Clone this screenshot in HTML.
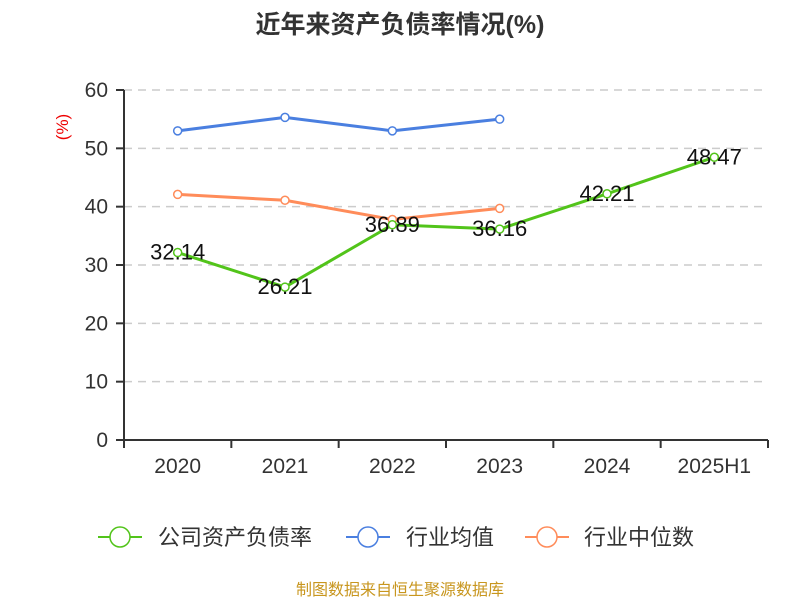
<!DOCTYPE html>
<html><head><meta charset="utf-8"><style>
body{margin:0;background:#fff;font-family:"Liberation Sans","Noto Sans CJK SC",sans-serif}
</style></head><body>
<svg id="c" width="800" height="600" xmlns="http://www.w3.org/2000/svg" font-family="Liberation Sans, Noto Sans CJK SC, sans-serif">
<text x="400" y="33" text-anchor="middle" font-size="25" font-weight="bold" fill="#333">近年来资产负债率情况(%)</text>
<text transform="translate(68,127) rotate(-90)" text-anchor="middle" font-size="17" fill="#e00">(%)</text>
<g id="grid"></g><g id="axes"></g><g id="series"></g>
<g font-size="22" fill="#333">
<g><line x1="98" y1="537" x2="142" y2="537" stroke="#52c41a" stroke-width="2"/><circle cx="120" cy="537" r="10" fill="#fff" stroke="#52c41a" stroke-width="1.5"/><text x="158" y="545">公司资产负债率</text></g>
<g><line x1="346" y1="537" x2="390" y2="537" stroke="#4a7fe0" stroke-width="2"/><circle cx="368" cy="537" r="10" fill="#fff" stroke="#4a7fe0" stroke-width="1.5"/><text x="406" y="545">行业均值</text></g>
<g><line x1="525" y1="537" x2="569" y2="537" stroke="#ff8c5a" stroke-width="2"/><circle cx="547" cy="537" r="10" fill="#fff" stroke="#ff8c5a" stroke-width="1.5"/><text x="584" y="545">行业中位数</text></g>
</g>
<text x="400" y="595" text-anchor="middle" font-size="16" fill="#c8961e">制图数据来自恒生聚源数据库</text>
</svg>
<script>
const categories=["2020","2021","2022","2023","2024","2025H1"];
const companyValues=[32.14,26.21,36.89,36.16,42.21,48.47];
const avgValues=[53.0,55.3,53.0,55.0,null,null];
const medianValues=[42.1,41.1,37.8,39.7,null,null];
const yTicks=[0,10,20,30,40,50,60];
const NS="http://www.w3.org/2000/svg";
const L=124,R=768,T=90,B=440,yMax=60;
const bw=(R-L)/categories.length;
const xs=i=>L+bw*(i+0.5);
const ys=v=>B-(v/yMax)*(B-T);
function mk(t,a,p,txt){const e=document.createElementNS(NS,t);for(const k in a)e.setAttribute(k,a[k]);if(txt!=null)e.textContent=txt;p.appendChild(e);return e;}
const grid=document.getElementById('grid'),axes=document.getElementById('axes'),ser=document.getElementById('series');
yTicks.forEach(v=>{
  if(v>0){const g=mk('line',{x1:L,x2:R,y1:ys(v),y2:ys(v),stroke:'#ccc','stroke-width':1.5,'stroke-dasharray':'8,6'},grid);
  
  }
  mk('line',{x1:L-8,x2:L,y1:ys(v),y2:ys(v),stroke:'#333','stroke-width':2},axes);
  const t=mk('text',{x:L-16,y:ys(v)+7,'text-anchor':'end','font-size':21,fill:'#333'},axes,v);
  
  
});
mk('line',{x1:L,x2:L,y1:T,y2:B,stroke:'#333','stroke-width':2},axes);
mk('line',{x1:L,x2:R,y1:B,y2:B,stroke:'#333','stroke-width':2},axes);
for(let i=0;i<=categories.length;i++)mk('line',{x1:L+bw*i,x2:L+bw*i,y1:B,y2:B+8,stroke:'#333','stroke-width':2},axes);
categories.forEach((c,i)=>{const t=mk('text',{x:xs(i),y:473,'text-anchor':'middle','font-size':21,fill:'#333'},axes,c);

});
function series(vals,color,name,labels){
  const pts=vals.map((v,i)=>v==null?null:[xs(i),ys(v)]).filter(p=>p);
  const pl=mk('polyline',{points:pts.map(p=>p.join(',')).join(' '),fill:'none',stroke:color,'stroke-width':3},ser);
  
  
  vals.forEach((v,i)=>{if(v==null)return;
    const c=mk('circle',{cx:xs(i),cy:ys(v),r:4,fill:'#fff',stroke:color,'stroke-width':1.5},ser);
    
    
    if(labels){const t=mk('text',{x:xs(i),y:ys(v)+7,'text-anchor':'middle','font-size':22,fill:'#111'},ser,v.toFixed(2));
    
    }
  });
}
series(avgValues,'#4a7fe0','industry-avg',false);
series(medianValues,'#ff8c5a','industry-median',false);
series(companyValues,'#52c41a','company',true);
</script>
</body></html>
